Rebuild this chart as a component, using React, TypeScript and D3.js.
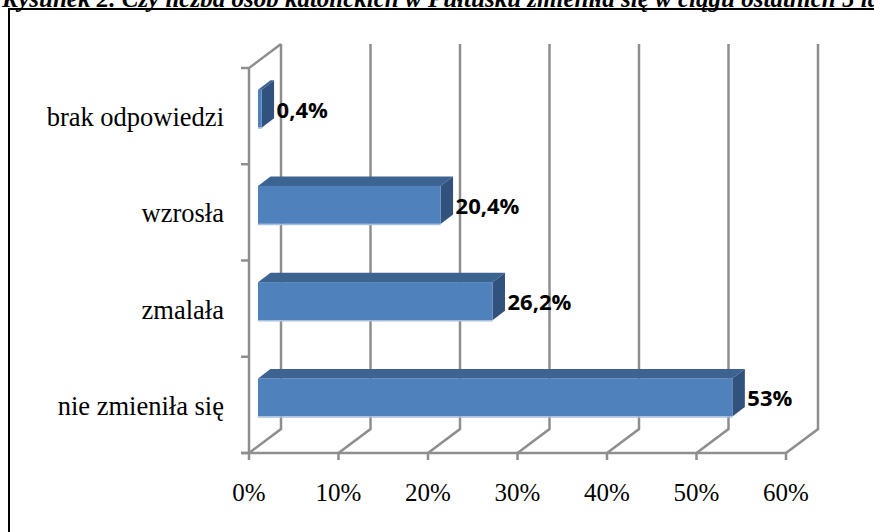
import React, { useEffect, useRef } from "react";
import * as d3 from "d3";

const categories = ["brak odpowiedzi", "wzrosła", "zmalała", "nie zmieniła się"];
const values = [0.4, 20.4, 26.2, 53];
const valueLabels = ["0,4%", "20,4%", "26,2%", "53%"];
const ticks = [0, 10, 20, 30, 40, 50, 60];
const title =
  "Rysunek 2. Czy liczba osób katolickich w Pułtusku zmieniła się w ciągu ostatnich 5 lat";

const serif = "'Times New Roman', 'Liberation Serif', Tinos, serif";

const App = () => {
  const gRef = useRef<SVGGElement>(null);

  useEffect(() => {
    const g = d3.select(gRef.current);
    g.selectAll("*").remove();

    // floor front / back wall offsets (fake 3D)
    const wallDx = 32,
      wallDy = -24;
    const top = 44;
    const x = d3.scaleLinear().domain([0, 60]).range([249, 786]);
    const y = d3.scaleBand().domain(categories).range([68, 453]);
    const floorY = 453;

    const grid = g.append("g").attr("stroke", "#8e8e8e").attr("stroke-width", 2.5).attr("fill", "none");

    // back wall gridlines + floor diagonals
    ticks.forEach((t) => {
      const x0 = x(t);
      grid
        .append("path")
        .attr("d", `M${x0},${floorY}L${x0 + wallDx},${floorY + wallDy}L${x0 + wallDx},${top}`);
      grid.append("line").attr("x1", x0).attr("x2", x0).attr("y1", floorY).attr("y2", floorY + 7);
    });

    // front floor line
    grid.append("line").attr("x1", x(0) - 8).attr("x2", x(60)).attr("y1", floorY).attr("y2", floorY);

    // left wall
    grid
      .append("path")
      .attr("d", `M${x(0)},${floorY}L${x(0)},${y.range()[0]}L${x(0) + wallDx},${top}`);
    const bounds = categories.map((c) => y(c)!).concat([floorY]);
    bounds.forEach((b) => {
      grid.append("line").attr("x1", x(0) - 8).attr("x2", x(0)).attr("y1", b).attr("y2", b);
    });

    // bars
    const barDx0 = 9,
      barDy0 = -7.5;
    const depthX = 12.5,
      depthY = -9.5;
    const barH = 38;
    const bars = g.append("g");
    categories.forEach((c, i) => {
      const cy = y(c)! + y.bandwidth() / 2 + barDy0;
      const y0 = cy - barH / 2;
      const x0 = x(0) + barDx0;
      const x1 = x(values[i]) + barDx0;
      // top face
      bars
        .append("path")
        .attr("d", `M${x0},${y0}L${x0 + depthX},${y0 + depthY}L${x1 + depthX},${y0 + depthY}L${x1},${y0}Z`)
        .attr("fill", "#3d6391");
      // side face
      bars
        .append("path")
        .attr(
          "d",
          `M${x1},${y0}L${x1 + depthX},${y0 + depthY}L${x1 + depthX},${y0 + barH + depthY}L${x1},${y0 + barH}Z`
        )
        .attr("fill", "#30527d");
      // front face
      bars
        .append("rect")
        .attr("x", x0)
        .attr("y", y0)
        .attr("width", x1 - x0)
        .attr("height", barH)
        .attr("fill", "#4f81bd");
      bars
        .append("line")
        .attr("x1", x0)
        .attr("x2", x1)
        .attr("y1", y0 + barH + 0.5)
        .attr("y2", y0 + barH + 0.5)
        .attr("stroke", "#a9bfdc")
        .attr("stroke-width", 1.5);
      // value label
      g.append("text")
        .attr("x", x1 + 15)
        .attr("y", cy + 9)
        .attr("font-family", "'Open Sans', 'Noto Sans', sans-serif")
        .attr("font-weight", "bold")
        .attr("font-size", 22)
        .attr("fill", "#000")
        .text(valueLabels[i]);
      // category label
      g.append("text")
        .attr("x", 224)
        .attr("y", y(c)! + y.bandwidth() / 2 + 10)
        .attr("text-anchor", "end")
        .attr("font-family", serif)
        .attr("font-size", 26.5)
        .attr("fill", "#000")
        .text(c);
    });

    // x tick labels
    ticks.forEach((t) => {
      g.append("text")
        .attr("x", x(t))
        .attr("y", 501)
        .attr("text-anchor", "middle")
        .attr("font-family", serif)
        .attr("font-size", 25)
        .attr("fill", "#000")
        .text(t + "%");
    });
  }, []);

  return (
    <svg
      width={874}
      height={532}
      style={{ position: "absolute", left: 0, top: 0, background: "#fff" }}
    >
      <rect x={0} y={0} width={874} height={532} fill="#fff" />
      <rect x={9} y={9} width={880} height={540} fill="none" stroke="#000" strokeWidth={2} />
      <text
        x={2}
        y={7}
        fontFamily={serif}
        fontStyle="italic"
        fontWeight="bold"
        fontSize={25}
        fill="#000"
      >
        {title}
      </text>
      <g ref={gRef} />
    </svg>
  );
};

export default App;
